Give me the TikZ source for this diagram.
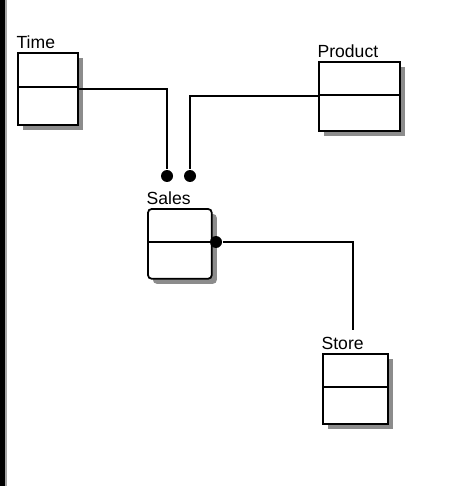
\documentclass[tikz,border=0pt]{standalone}
\usepackage{fontspec}
\setmainfont{Liberation Sans}
\usetikzlibrary{shadows,calc,positioning}

\begin{document}
\begin{tikzpicture}[x=0.02cm,y=-0.02cm,line width=1pt,
  tbl/.style={draw,fill=white,anchor=north west,inner sep=0,
    drop shadow={shadow xshift=.1cm,shadow yshift=-.1cm,fill=black!45,opacity=1}},
  lbl/.style={anchor=south west,inner sep=1pt,font=\fontsize{10}{12}\selectfont},
  dot/.style={circle,fill=black,inner sep=0,minimum size=.24cm}]
\useasboundingbox (0,0) rectangle (453,486);
\fill[black] (0,0) rectangle (5,486);
\fill[black!35] (5,0) rectangle (7,486);
\node[tbl,minimum width=1.2cm,minimum height=1.44cm] (time) at (17,52) {};
\node[tbl,minimum width=1.62cm,minimum height=1.38cm] (product) at (318,61) {};
\node[tbl,rounded corners=2.3pt,minimum width=1.28cm,minimum height=1.4cm] (sales) at (147,208) {};
\node[tbl,minimum width=1.3cm,minimum height=1.4cm] (store) at (322,353) {};
\foreach \t/\s in {time/Time,product/Product,sales/Sales,store/Store}{
  \node[lbl] (\t lbl) at ($(\t.north west)+(-3,-1)$) {\s};
  \draw[line width=1.2pt] ($(\t.north west)!.48!(\t.south west)$) -- ($(\t.north east)!.48!(\t.south east)$);
}
\node[dot] (stime) at (167,176) {};
\node[dot] (sprod) at (190,176) {};
\node[dot] (sstore) at (216,242) {};
\coordinate (storeend) at (353,330);
\draw (time.east) -| (stime);
\draw (product.west) -| (sprod);
\draw (sstore) -| (storeend);
\end{tikzpicture}
\end{document}
